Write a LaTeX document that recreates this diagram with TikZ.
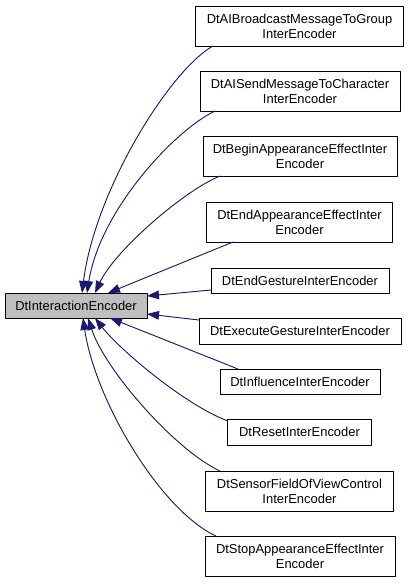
\documentclass[tikz,border=0pt]{standalone}
\usepackage{fontspec}
\setmainfont{Liberation Sans}
\usetikzlibrary{arrows.meta,calc}
\begin{document}
\begin{tikzpicture}[x=0.75pt,y=-0.75pt,>={Triangle[length=9pt,width=6.5pt]}, font=\fontsize{9.7}{11.25}\selectfont, line join=round]
	\definecolor{edge blue}{RGB}{25,25,112}
	\colorlet{main area}{black!25}
	\tikzset{cls/.style={draw=black, line width=0.75pt, inner sep=0pt, outer sep=0pt, align=center, fill=white},
		link/.style={draw=edge blue, line width=0.7pt, ->, edge blue}}
	\useasboundingbox (0,0) rectangle (409,583);
	\node[cls, fill=main area, minimum width=106.5pt, minimum height=18.75pt] (main) at (76,305.5) {DtInteractionEncoder};
	\node[cls, minimum width=155.3pt, minimum height=30pt] (bcast) at (299.5,26) {DtAIBroadcastMessageToGroup\\InterEncoder};
	\node[cls, minimum width=150pt, minimum height=30pt] (send) at (300,91) {DtAISendMessageToCharacter\\InterEncoder};
	\node[cls, minimum width=145.5pt, minimum height=30pt] (beginapp) at (300,156) {DtBeginAppearanceEffectInter\\Encoder};
	\node[cls, minimum width=138.8pt, minimum height=30pt] (endapp) at (299.5,222) {DtEndAppearanceEffectInter\\Encoder};
	\node[cls, minimum width=133.5pt, minimum height=18.75pt] (endgest) at (300,280.5) {DtEndGestureInterEncoder};
	\node[cls, minimum width=151.5pt, minimum height=19.5pt] (execgest) at (300,331) {DtExecuteGestureInterEncoder};
	\node[cls, minimum width=120pt, minimum height=18.75pt] (infl) at (300,381.5) {DtInfluenceInterEncoder};
	\node[cls, minimum width=107.3pt, minimum height=19.5pt] (reset) at (299.5,432) {DtResetInterEncoder};
	\node[cls, minimum width=140.3pt, minimum height=30pt] (sensor) at (299.5,491) {DtSensorFieldOfViewControl\\InterEncoder};
	\node[cls, minimum width=142.5pt, minimum height=30pt] (stopapp) at (300,556) {DtStopAppearanceEffectInter\\Encoder};
	% curved links above the base class
	\draw[link] ($(bcast.south west)+(17,0)$) .. controls (170,70) and (95,190) .. ($(main.north west)+(77,0)$);
	\draw[link] ($(send.south west)+(15,0)$) .. controls (175,130) and (100,210) .. ($(main.north west)+(82,0)$);
	\draw[link] ($(beginapp.south west)+(17,0)$) .. controls (185,190) and (115,250) .. ($(main.north west)+(90,0)$);
	% straight links
	\draw[link] ($(endapp.south west)+(26,0)$) -- ($(main.north west)+(103,0)$);
	\draw[link] ($(endgest.south west)+(0,-3)$) -- ($(main.north east)+(0,3)$);
	\draw[link] ($(execgest.north west)+(0,2)$) -- ($(main.south east)+(0,-4)$);
	\draw[link] ($(infl.north west)+(18,0)$) -- ($(main.south west)+(105,0)$);
	% curved links below
	\draw[link] ($(reset.north west)+(0,2)$) .. controls (185,405) and (120,350) .. ($(main.south west)+(90,0)$);
	\draw[link] ($(sensor.north west)+(14,0)$) .. controls (175,450) and (105,370) .. ($(main.south west)+(83,0)$);
	\draw[link] ($(stopapp.north west)+(11,0)$) .. controls (160,510) and (95,400) .. ($(main.south west)+(78,0)$);
\end{tikzpicture}
\end{document}
